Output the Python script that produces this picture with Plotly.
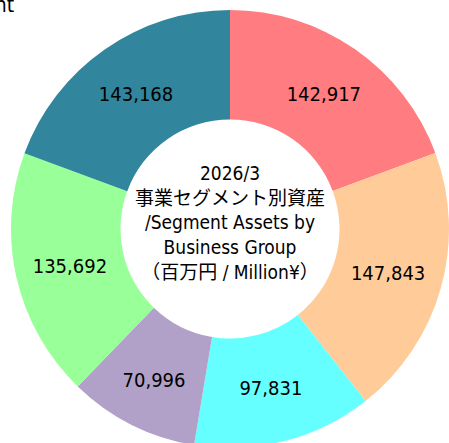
import plotly.graph_objects as go

segments = ["Segment A", "Segment B", "Segment C", "Segment D", "Segment E", "Segment F"]
values = [142917, 147843, 97831, 70996, 135692, 143168]
colors = ["#FF7C80", "#FFCC99", "#66FFFF", "#B1A0C7", "#99FF99", "#31859C"]
center_lines = ["2026/3", "事業セグメント別資産", "/Segment Assets by", "Business Group", "（百万円 / Million¥）"]
corner_text = "Segment"

FONT = "DejaVu Sans Condensed, DejaVu Sans, Noto Sans CJK JP"

fig = go.Figure(go.Pie(
    labels=segments,
    values=values,
    hole=0.5,
    sort=False,
    direction="clockwise",
    rotation=0,
    marker=dict(colors=colors, line=dict(width=0)),
    texttemplate="%{value:,}",
    textposition="inside",
    insidetextorientation="horizontal",
    textfont=dict(family=FONT, size=20, color="black"),
    showlegend=False,
    hoverinfo="label+value",
))

fig.add_annotation(
    text="<br>".join(center_lines),
    x=0.5, y=0.5 + 6/438, xref="paper", yref="paper",
    showarrow=False,
    font=dict(family=FONT, size=19, color="black"),
    align="center",
)

fig.add_annotation(
    text=corner_text,
    x=5/438, y=1 - 9/438, xref="paper", yref="paper",
    xanchor="right", yanchor="bottom",
    showarrow=False,
    font=dict(family=FONT, size=21, color="black"),
)

fig.update_layout(
    width=449, height=448,
    margin=dict(l=11, r=0, t=10, b=0),
    paper_bgcolor="white",
    plot_bgcolor="white",
)

fig.write_html(
    "out.html",
    config={"displayModeBar": False},
    post_script="document.body.style.margin='0';document.body.style.overflow='hidden';",
)
